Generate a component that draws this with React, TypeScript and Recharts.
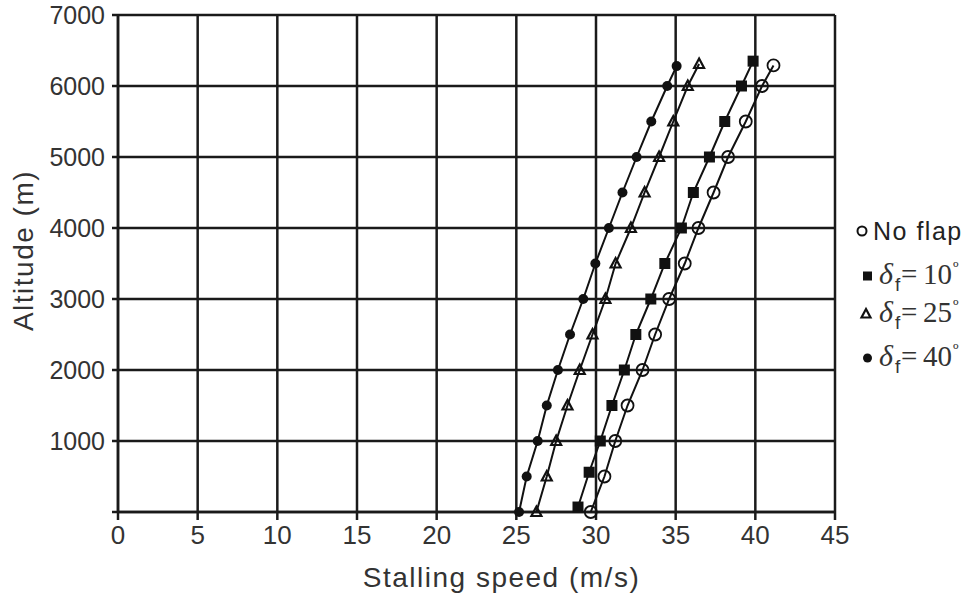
import React from "react";
import { ScatterChart, Scatter, XAxis, YAxis, CartesianGrid } from "recharts";

const speedTicks = [0, 5, 10, 15, 20, 25, 30, 35, 40, 45];
const altitudeTicks = [0, 1000, 2000, 3000, 4000, 5000, 6000, 7000];

// altitude (m) / stalling speed (m/s) pairs
const noFlapAltitudes = [0, 500, 1000, 1500, 2000, 2500, 3000, 3500, 4000, 4500, 5000, 5500, 6000, 6290];
const noFlapSpeeds = [29.67, 30.53, 31.21, 31.98, 32.92, 33.71, 34.59, 35.57, 36.43, 37.38, 38.29, 39.4, 40.42, 41.14];

const flap10Altitudes = [70, 560, 1000, 1500, 2000, 2500, 3000, 3500, 4000, 4500, 5000, 5500, 6000, 6350];
const flap10Speeds = [28.87, 29.57, 30.27, 31.0, 31.78, 32.5, 33.44, 34.32, 35.36, 36.11, 37.12, 38.08, 39.13, 39.86];

const flap25Altitudes = [0, 500, 1000, 1500, 2000, 2500, 3000, 3500, 4000, 4500, 5000, 5500, 6000, 6310];
const flap25Speeds = [26.26, 26.91, 27.5, 28.21, 28.98, 29.78, 30.59, 31.23, 32.19, 33.05, 33.96, 34.85, 35.76, 36.47];

const flap40Altitudes = [0, 500, 1000, 1500, 2000, 2500, 3000, 3500, 4000, 4500, 5000, 5500, 6000, 6280];
const flap40Speeds = [25.17, 25.65, 26.34, 26.91, 27.61, 28.37, 29.2, 29.96, 30.81, 31.66, 32.55, 33.47, 34.47, 35.06];

const flapAngles = [10, 25, 40];

const INK = "#111";
const SANS = "'Liberation Sans', Arial, sans-serif";
const SERIF = "'Liberation Serif', 'Times New Roman', serif";

const toPoints = (speeds: number[], alts: number[]) =>
  speeds.map((x, i) => ({ x, y: alts[i] }));

const OpenCircle = (p: any) => (
  <circle cx={p.cx} cy={p.cy} r={6} fill="none" stroke={INK} strokeWidth={1.8} />
);
const FilledSquare = (p: any) => (
  <rect x={p.cx - 5.5} y={p.cy - 5.5} width={11} height={11} fill={INK} />
);
const OpenTriangle = (p: any) => (
  <polygon
    points={`${p.cx},${p.cy - 5.5} ${p.cx + 5},${p.cy + 4} ${p.cx - 5},${p.cy + 4}`}
    fill="none"
    stroke={INK}
    strokeWidth={2.2}
  />
);
const FilledDot = (p: any) => <circle cx={p.cx} cy={p.cy} r={5} fill={INK} />;

const series = [
  { name: "No flap", data: toPoints(noFlapSpeeds, noFlapAltitudes), shape: OpenCircle },
  { name: "flap10", data: toPoints(flap10Speeds, flap10Altitudes), shape: FilledSquare },
  { name: "flap25", data: toPoints(flap25Speeds, flap25Altitudes), shape: OpenTriangle },
  { name: "flap40", data: toPoints(flap40Speeds, flap40Altitudes), shape: FilledDot },
];

const XTitle = ({ viewBox }: any) => (
  <text
    x={viewBox.x + viewBox.width / 2 + 25}
    y={587}
    textAnchor="middle"
    fill="#333"
    fontSize={28}
    fontFamily={SANS}
    letterSpacing={1.5}
  >
    Stalling speed (m/s)
  </text>
);

const YTitle = ({ viewBox }: any) => {
  const cx = 23;
  const cy = viewBox.y + viewBox.height / 2 - 13;
  return (
    <text
      x={cx}
      y={cy}
      transform={`rotate(-90 ${cx} ${cy})`}
      textAnchor="middle"
      dominantBaseline="central"
      fill="#333"
      fontSize={28}
      fontFamily={SANS}
      letterSpacing={1.5}
    >
      Altitude (m)
    </text>
  );
};

const rowY = [231, 276, 314, 358];

const FlapLegend = () => (
  <svg
    width={131}
    height={200}
    style={{ position: "absolute", left: 840, top: 200, overflow: "visible" }}
  >
    <g transform="translate(-840 -200)">
      <circle cx={862} cy={rowY[0]} r={4.5} fill="none" stroke={INK} strokeWidth={2} />
      <text
        x={873}
        y={rowY[0] + 9}
        fontSize={25}
        fontFamily={SANS}
        letterSpacing={1.5}
        fill="#222"
      >
        No flap
      </text>
      <rect x={863} y={rowY[1] - 4.5} width={9} height={9} fill={INK} />
      <polygon
        points={`866,${rowY[2] - 5} 870.5,${rowY[2] + 3.5} 861.5,${rowY[2] + 3.5}`}
        fill="none"
        stroke={INK}
        strokeWidth={2.2}
      />
      <circle cx={867.5} cy={rowY[3]} r={4.5} fill={INK} />
      {flapAngles.map((angle, i) => {
        const base = rowY[i + 1] + 8;
        return (
          <g key={angle} fill="#333" fontFamily={SERIF}>
            <text x={879} y={base} fontSize={30} fontStyle="italic">
              δ
            </text>
            <text x={895} y={base + 7} fontSize={19} fontFamily={SANS}>
              f
            </text>
            <text x={901} y={base} fontSize={29}>
              =
            </text>
            <text x={923} y={base} fontSize={29}>
              {angle}
            </text>
            <text x={953} y={base - 10} fontSize={18}>
              º
            </text>
          </g>
        );
      })}
    </g>
  </svg>
);

export default function App() {
  return (
    <div
      style={{
        position: "absolute",
        left: 0,
        top: 0,
        width: 971,
        height: 602,
        background: "#fff",
      }}
    >
      <ScatterChart
        width={971}
        height={602}
        margin={{ top: 15, right: 136, bottom: 0, left: 0 }}
      >
        <CartesianGrid stroke="#1a1a1a" strokeWidth={2.5} />
        <XAxis
          type="number"
          dataKey="x"
          domain={[0, 45]}
          ticks={speedTicks}
          interval={0}
          height={90}
          tickSize={8}
          tickMargin={6}
          stroke="#1a1a1a"
          strokeWidth={2.5}
          tick={{ fill: "#333", fontSize: 26, fontFamily: SANS }}
          label={{ content: XTitle }}
        />
        <YAxis
          type="number"
          dataKey="y"
          domain={[0, 7000]}
          ticks={altitudeTicks}
          interval={0}
          width={118}
          tickSize={6}
          tickMargin={7}
          stroke="#1a1a1a"
          strokeWidth={2.5}
          tickFormatter={(v: number) => (v === 0 ? "" : String(v))}
          tick={{ fill: "#333", fontSize: 25, fontFamily: SANS }}
          label={{ content: YTitle }}
        />
        {series.map((s) => (
          <Scatter
            key={s.name}
            name={s.name}
            data={s.data}
            shape={s.shape}
            line={{ stroke: INK, strokeWidth: 2 }}
            isAnimationActive={false}
          />
        ))}
      </ScatterChart>
      <FlapLegend />
    </div>
  );
}
